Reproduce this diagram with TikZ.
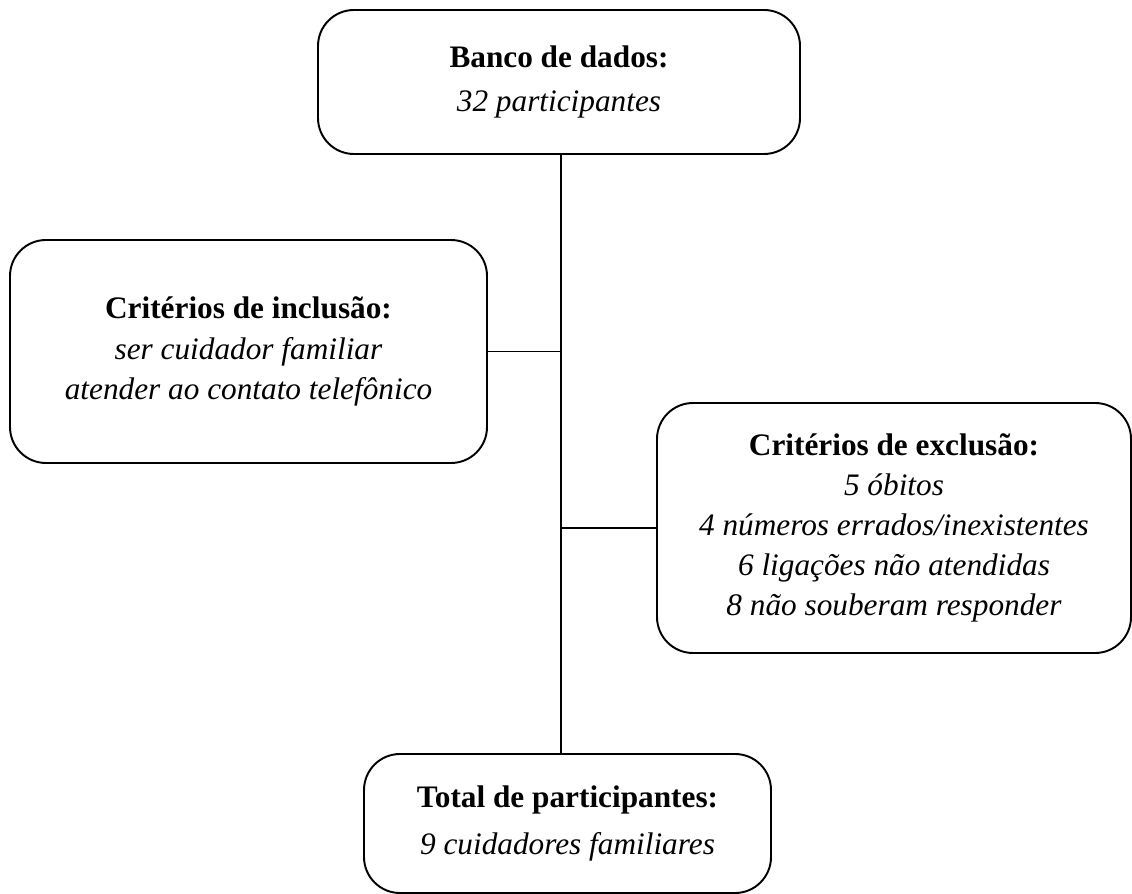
\documentclass[tikz,border=0pt]{standalone}
\usepackage{fontspec}
\setmainfont{Liberation Serif}
\begin{document}
\begin{tikzpicture}[
 box/.style={draw,rounded corners=0.72cm,line width=1.1pt,align=center,inner sep=2pt,
  font=\fontsize{17.8}{22.8}\selectfont},
 link/.style={line width=0.6pt}
]
 \useasboundingbox (0,0) rectangle (22.64,-17.88);
 \node[box,minimum width=9.64cm,minimum height=2.88cm] (banco) at (11.18,-1.64)
  {\textbf{Banco de dados:}\\[2pt]\textit{32 participantes}};
 \node[box,minimum width=9.54cm,minimum height=4.46cm] (incl) at (4.97,-7.03)
  {\textbf{Critérios de inclusão:}\\\textit{ser cuidador familiar}\\\textit{atender ao contato telefônico}};
 \node[box,minimum width=9.48cm,minimum height=5.0cm] (excl) at (17.88,-10.56)
  {\textbf{Critérios de exclusão:}\\\textit{5 óbitos}\\\textit{4 números errados/inexistentes}\\
   \textit{6 ligações não atendidas}\\\textit{8 não souberam responder}};
 \node[box,minimum width=8.14cm,minimum height=2.78cm] (total) at (11.35,-16.47)
  {\textbf{Total de participantes:}\\[4pt]\textit{9 cuidadores familiares}};
 \coordinate (trunk) at ([xshift=0.04cm]banco.south);
 \draw[link] (trunk) -- (trunk |- total.north);
 \draw[link] (incl.east) -- (incl.east -| trunk);
 \draw[link] (excl.west) -- (excl.west -| trunk);
\end{tikzpicture}
\end{document}
